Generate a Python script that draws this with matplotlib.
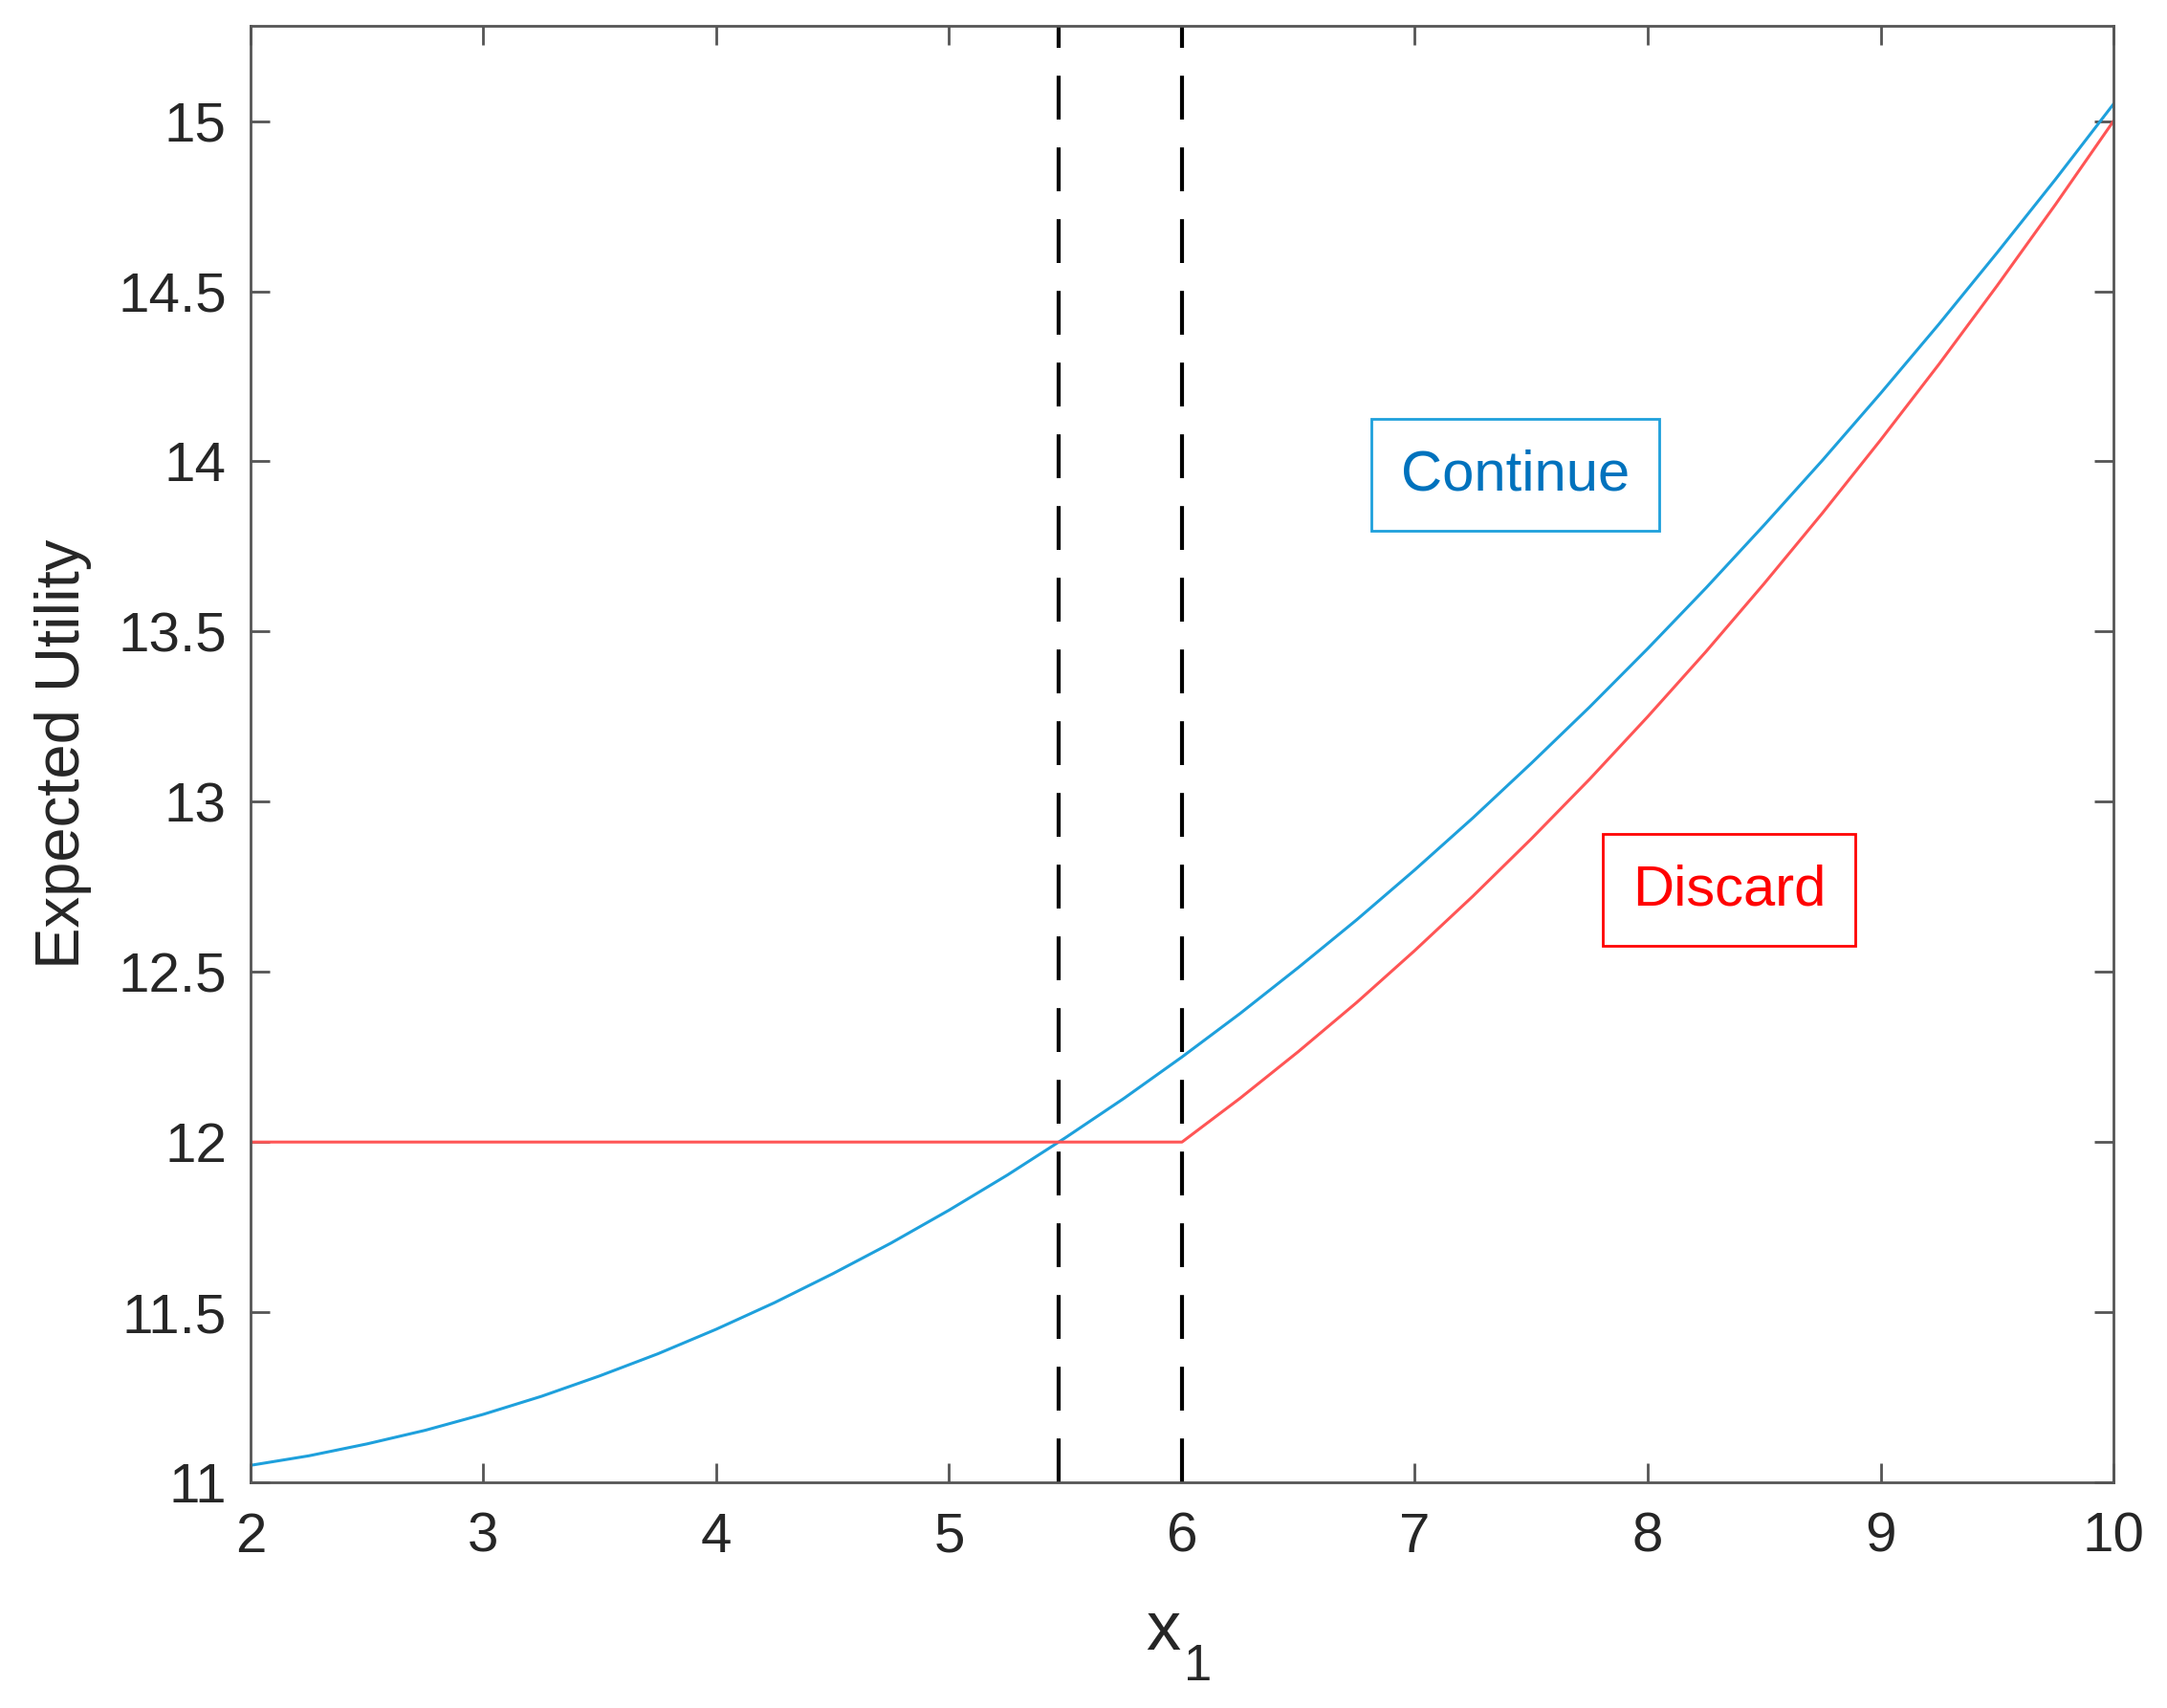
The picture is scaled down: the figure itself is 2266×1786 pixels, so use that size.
import matplotlib.pyplot as plt

plt.rcParams['font.family'] = ['Liberation Sans', 'DejaVu Sans']

# values
x_continue = [2, 2.25, 2.5, 2.75, 3, 3.25, 3.5, 3.75, 4, 4.25, 4.5, 4.75, 5,
              5.25, 5.5, 5.75, 6, 6.25, 6.5, 6.75, 7, 7.25, 7.5, 7.75, 8,
              8.25, 8.5, 8.75, 9, 9.25, 9.5, 9.75, 10]
eu_continue = [11.05, 11.078, 11.113, 11.153, 11.2, 11.253, 11.313, 11.378,
               11.45, 11.528, 11.613, 11.703, 11.8, 11.903, 12.013, 12.128,
               12.25, 12.378, 12.513, 12.653, 12.8, 12.953, 13.113, 13.278,
               13.45, 13.628, 13.813, 14.003, 14.2, 14.403, 14.613, 14.828,
               15.05]

x_discard = [2, 6, 6.25, 6.5, 6.75, 7, 7.25, 7.5, 7.75, 8, 8.25, 8.5, 8.75,
             9, 9.25, 9.5, 9.75, 10]
eu_discard = [12, 12, 12.129, 12.266, 12.41, 12.563, 12.723, 12.891, 13.066,
              13.25, 13.441, 13.641, 13.848, 14.063, 14.285, 14.516, 14.754,
              15.0]

thresholds = [5.47, 6.0]

xticks = [2, 3, 4, 5, 6, 7, 8, 9, 10]
yticks = [11, 11.5, 12, 12.5, 13, 13.5, 14, 14.5, 15]
ytick_labels = ['11', '11.5', '12', '12.5', '13', '13.5', '14', '14.5', '15']

blue = '#1EA0DC'
red = '#FF5555'
axis_grey = '#555555'
text_dark = '#262626'

fig = plt.figure(figsize=(11.33, 8.93), dpi=200)
ax = fig.add_axes([0.1156, 0.1321, 0.8597, 0.8528])

ax.plot(x_continue, eu_continue, color=blue, lw=1.1)
ax.plot(x_discard, eu_discard, color=red, lw=1.1)
for xv in thresholds:
    ax.axvline(xv, color='black', lw=1.5, dashes=(11, 7))

ax.set_xlim(2, 10)
ax.set_ylim(11, 15.28)
ax.set_xticks(xticks)
ax.set_xticklabels([str(t) for t in xticks])
ax.set_yticks(yticks)
ax.set_yticklabels(ytick_labels)

ax.tick_params(direction='in', length=7.2, width=1.0, top=True, right=True,
               color=axis_grey, labelcolor=text_dark, labelsize=21)
ax.tick_params(axis='x', pad=11)
ax.tick_params(axis='y', pad=9)
for sp in ax.spines.values():
    sp.set_color(axis_grey)
    sp.set_linewidth(1.0)

ax.set_ylabel('Expected Utility', fontsize=23.5, color=text_dark)
ax.yaxis.set_label_coords(-0.085, 0.5)
# x with a large MATLAB-style subscript 1
ax.set_xlabel('x', fontsize=26, color=text_dark, va='baseline')
ax.xaxis.set_label_coords(0.4897, -0.1149)
ax.text(0.501, -0.1359, '1', transform=ax.transAxes, fontsize=19,
        color=text_dark, ha='left', va='baseline')

ax.text(7.43, 13.96, 'Continue', ha='center', va='center', fontsize=21.5,
        color='#0072BD',
        bbox=dict(boxstyle='square,pad=0.52', fc='white', ec=blue, lw=1.0))
ax.text(8.35, 12.74, 'Discard', ha='center', va='center', fontsize=21.5,
        color='red',
        bbox=dict(boxstyle='square,pad=0.52', fc='white', ec='red', lw=1.0))

fig.savefig('out.png', dpi=200)
plt.close(fig)
